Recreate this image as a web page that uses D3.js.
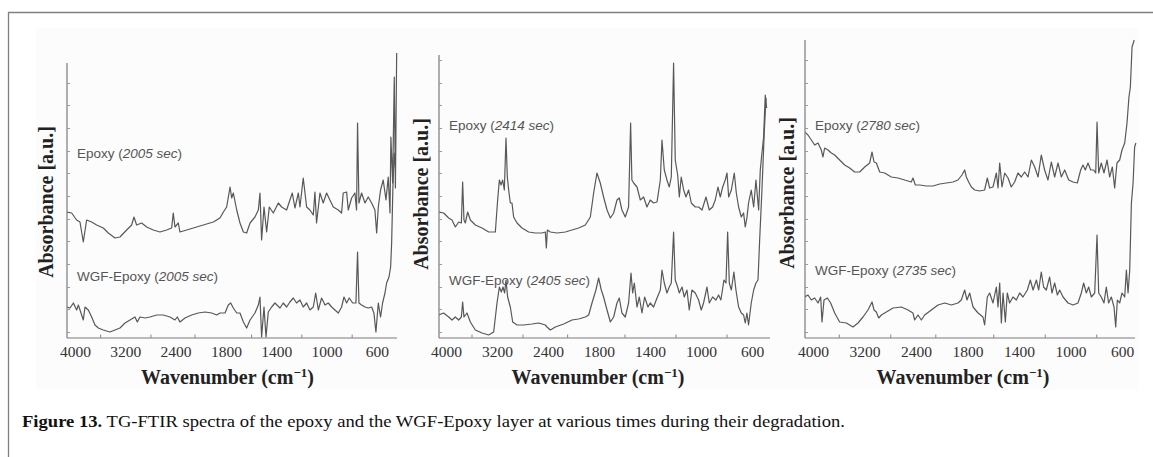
<!DOCTYPE html>
<html>
<head>
<meta charset="utf-8">
<script src="https://cdn.jsdelivr.net/npm/d3@7"></script>
<style>
  body { margin: 0; background: #fff; }
  svg { display: block; }
</style>
</head>
<body>
<div id="chart"></div>
<script>
// TG-FTIR spectra, three panels (wavenumber cm-1 vs absorbance a.u.)

var tickLabels = [4000, 3200, 2400, 1800, 1400, 1000, 600];
var minorTicks = [3600, 2800, 2100, 1600, 1200, 800];
var yTicks = [6, 29, 51, 74, 97, 119, 142, 165, 187, 210, 233, 255, 278];

var seriesNames = ["Epoxy", "WGF-Epoxy"];
var panelTimes = [["2005 sec", "2005 sec"], ["2414 sec", "2405 sec"], ["2780 sec", "2735 sec"]];

// [wavenumber, absorbance]
var epoxy2005 = [[4130,126],[4053,125],[3974,118],[3921,116],[3868,96],[3815,118],[3735,116],[3656,113],[3550,110],[3470,105],[3364,100],[3285,101],[3179,108],[3099,113],[3062,121],[3020,113],[2940,115],[2860,111],[2755,108],[2649,106],[2543,108],[2463,110],[2437,125],[2410,111],[2357,115],[2331,106],[2224,108],[2118,110],[1980,113],[1900,116],[1847,120],[1820,126],[1794,131],[1767,151],[1754,140],[1741,145],[1714,128],[1688,115],[1661,106],[1635,105],[1608,115],[1569,121],[1542,128],[1529,145],[1516,98],[1497,131],[1476,106],[1455,131],[1423,125],[1383,135],[1357,131],[1317,128],[1291,138],[1272,145],[1251,130],[1224,145],[1211,131],[1185,160],[1158,131],[1132,128],[1105,123],[1092,146],[1079,115],[1052,145],[1026,135],[999,145],[973,138],[946,131],[906,128],[880,125],[867,145],[840,146],[827,128],[800,140],[774,145],[761,128],[753,215],[742,135],[721,145],[694,135],[668,141],[641,135],[615,128],[601,105],[588,131],[570,148],[549,158],[527,138],[509,161],[495,125],[488,201],[474,155],[461,261],[452,150],[442,285]];

var wgf2005 = [[4130,31],[4079,30],[4026,35],[3974,28],[3947,33],[3894,23],[3868,18],[3841,31],[3788,28],[3735,21],[3682,13],[3629,10],[3550,8],[3444,6],[3364,8],[3285,10],[3205,15],[3125,18],[3046,21],[3009,16],[2967,21],[2887,20],[2807,21],[2701,23],[2596,23],[2490,21],[2410,18],[2373,21],[2331,16],[2251,20],[2145,23],[2040,25],[1966,26],[1913,25],[1873,23],[1847,25],[1807,25],[1781,33],[1762,35],[1741,30],[1714,25],[1688,25],[1661,16],[1635,10],[1608,18],[1569,25],[1542,33],[1529,41],[1516,1],[1497,31],[1481,1],[1463,26],[1436,31],[1410,35],[1370,30],[1344,35],[1317,31],[1291,36],[1264,40],[1238,35],[1211,38],[1185,31],[1158,35],[1132,28],[1105,31],[1086,45],[1065,28],[1039,40],[1012,33],[986,35],[959,31],[933,28],[906,25],[880,31],[861,41],[840,35],[819,40],[792,35],[766,35],[753,86],[742,35],[721,33],[694,31],[668,30],[641,31],[623,25],[607,6],[588,35],[570,21],[554,35],[535,45],[522,55],[503,61],[490,71],[482,95],[472,150],[462,185],[452,170]];

var epoxy2414 = [[4115,126],[4037,125],[3958,120],[3906,118],[3854,111],[3801,116],[3759,115],[3739,156],[3718,118],[3697,115],[3660,126],[3618,118],[3540,113],[3435,110],[3331,106],[3226,106],[3190,138],[3163,158],[3137,153],[3111,158],[3085,148],[3059,200],[3038,161],[3017,148],[2991,135],[2965,135],[2939,121],[2886,115],[2808,110],[2703,106],[2599,105],[2494,105],[2442,106],[2426,90],[2410,108],[2363,106],[2259,105],[2128,106],[2024,108],[1960,110],[1907,113],[1868,121],[1842,145],[1816,165],[1790,155],[1764,141],[1737,128],[1711,120],[1685,125],[1659,138],[1641,140],[1620,128],[1594,121],[1568,131],[1552,215],[1542,158],[1528,155],[1502,151],[1476,138],[1450,141],[1424,131],[1398,138],[1372,135],[1345,136],[1319,158],[1306,198],[1288,168],[1267,158],[1249,151],[1233,161],[1215,275],[1202,178],[1183,163],[1170,141],[1155,161],[1136,148],[1118,141],[1097,148],[1076,135],[1045,131],[1019,131],[992,128],[961,141],[935,128],[909,131],[888,138],[867,151],[849,141],[830,151],[810,158],[796,165],[783,141],[762,148],[739,165],[723,145],[705,131],[684,121],[666,125],[653,111],[640,120],[627,135],[606,148],[587,131],[569,158],[548,128],[535,168],[522,185],[509,201],[496,243],[485,230]];

var wgf2405 = [[4115,23],[4037,25],[3958,21],[3906,18],[3854,21],[3801,18],[3759,21],[3739,36],[3718,21],[3671,25],[3618,16],[3540,8],[3435,5],[3331,3],[3252,6],[3200,35],[3163,51],[3132,46],[3106,51],[3080,45],[3059,58],[3033,41],[2991,31],[2954,16],[2886,13],[2782,13],[2651,14],[2546,15],[2442,13],[2416,11],[2363,8],[2285,11],[2154,14],[2024,18],[1960,19],[1907,21],[1881,23],[1855,35],[1824,48],[1803,60],[1782,48],[1764,41],[1737,28],[1711,16],[1685,21],[1659,35],[1641,40],[1620,25],[1594,21],[1568,35],[1549,65],[1536,45],[1523,55],[1502,31],[1484,41],[1463,25],[1442,41],[1416,31],[1398,35],[1372,31],[1345,40],[1319,48],[1306,68],[1288,55],[1267,45],[1249,51],[1233,55],[1215,106],[1202,58],[1183,51],[1170,45],[1149,51],[1131,41],[1110,48],[1092,28],[1071,48],[1045,45],[1019,38],[998,28],[980,35],[953,51],[935,35],[909,41],[883,38],[862,43],[844,38],[820,58],[804,55],[791,106],[778,55],[762,48],[742,66],[726,48],[705,31],[684,25],[666,23],[653,15],[640,25],[627,13],[606,35],[587,48],[569,55],[553,58],[540,98],[522,148],[504,205],[490,240]];

var epoxy2780 = [[4129,206],[4078,203],[4026,198],[3974,193],[3922,195],[3871,188],[3845,181],[3819,190],[3767,188],[3715,185],[3663,183],[3586,178],[3508,173],[3430,170],[3353,166],[3275,166],[3197,171],[3120,175],[3083,186],[3052,176],[3016,175],[2964,166],[2887,165],[2783,161],[2680,160],[2576,158],[2473,156],[2447,160],[2410,153],[2343,153],[2239,152],[2136,152],[2032,154],[1964,155],[1913,156],[1874,158],[1843,163],[1822,168],[1809,161],[1791,156],[1770,151],[1744,148],[1705,147],[1667,148],[1646,160],[1628,150],[1602,151],[1576,165],[1563,150],[1550,175],[1532,151],[1511,165],[1485,160],[1460,151],[1434,156],[1408,165],[1382,161],[1356,166],[1330,161],[1304,178],[1278,171],[1252,161],[1227,183],[1201,168],[1175,158],[1149,176],[1123,161],[1097,175],[1071,161],[1045,168],[1014,158],[980,156],[947,155],[921,168],[903,173],[885,168],[864,175],[843,168],[820,168],[804,165],[794,216],[781,165],[761,175],[740,165],[716,178],[696,161],[675,171],[657,150],[639,175],[618,178],[600,188],[579,195],[561,215],[546,241],[535,251],[522,291],[505,298]];

var wgf2735 = [[4129,41],[4078,43],[4026,38],[3974,40],[3922,35],[3881,41],[3860,16],[3829,38],[3777,40],[3726,35],[3663,25],[3586,16],[3482,15],[3379,11],[3301,15],[3223,21],[3146,28],[3083,36],[3052,28],[3016,26],[2980,20],[2938,23],[2861,26],[2757,30],[2628,31],[2524,28],[2447,25],[2421,18],[2369,23],[2317,18],[2265,23],[2162,28],[2058,33],[1977,35],[1925,33],[1874,35],[1848,38],[1822,48],[1804,38],[1783,45],[1757,31],[1718,25],[1680,21],[1667,13],[1646,41],[1628,45],[1602,35],[1576,51],[1563,31],[1550,55],[1537,15],[1524,45],[1506,16],[1491,45],[1473,35],[1447,41],[1421,38],[1395,45],[1369,41],[1335,48],[1312,58],[1291,48],[1265,58],[1247,48],[1227,66],[1209,51],[1188,48],[1162,61],[1144,45],[1123,55],[1102,43],[1084,48],[1058,41],[1019,35],[980,33],[942,35],[916,45],[898,55],[877,45],[859,51],[838,41],[812,45],[794,103],[781,45],[761,41],[740,35],[722,51],[704,35],[683,41],[662,31],[649,11],[636,38],[618,35],[600,45],[579,41],[566,68],[553,45],[540,68],[527,135],[514,155],[502,191],[492,195]];

var width = 1153;
var height = 457;
var axisY = 338;

var serif = "'Liberation Serif', 'DejaVu Serif', serif";
var sans = "'Liberation Sans', Arial, sans-serif";

// layout of each panel (pixels)
var panels = [
    { axisX: 67,  x4000: 75,  step: 50.3, xEnd: 397,  yTop: 63, ylabX: 52.5, ylabY: 202, xlabX: 227.5,
      series: [epoxy2005, wgf2005], labY: [158, 281] },
    { axisX: 439, x4000: 446, step: 51,   xEnd: 770,  yTop: 55, ylabX: 428,  ylabY: 194, xlabX: 598,
      series: [epoxy2414, wgf2405], labY: [130, 285] },
    { axisX: 805, x4000: 813, step: 51.5, xEnd: 1135, yTop: 40, ylabX: 794,  ylabY: 193, xlabX: 963,
      series: [epoxy2780, wgf2735], labY: [130, 275] }
];

var svg = d3.select("#chart")
    .append("svg")
    .attr("width", width)
    .attr("height", height);

// faint background of the figure image
svg.append("rect")
    .attr("x", 36).attr("y", 28)
    .attr("width", 1102).attr("height", 362)
    .attr("fill", "#fcfcfc");

// frame (top and left only)
svg.append("path")
    .attr("d", "M8.5,457 V12.5 H1153")
    .attr("fill", "none")
    .attr("stroke", "#808080")
    .attr("stroke-width", 1.3);

var y = d3.scaleLinear().domain([0, 280]).range([axisY, axisY - 280]);

panels.forEach(function(p, i) {
    // FTIR style axis: 4000-2000 compressed by half
    var x = d3.scaleLinear()
        .domain([4000, 2000, 600])
        .range([p.x4000, p.x4000 + 2.5 * p.step, p.x4000 + 6 * p.step]);

    var g = svg.append("g").attr("class", "panel" + i);

    var clipId = "clip" + i;
    svg.append("clipPath").attr("id", clipId)
        .append("rect")
        .attr("x", p.axisX).attr("y", 0)
        .attr("width", p.xEnd - p.axisX + 2).attr("height", axisY + 2);

    var line = d3.line()
        .x(function(d) { return x(d[0]); })
        .y(function(d) { return y(d[1]); });

    p.series.forEach(function(s) {
        g.append("path")
            .datum(s)
            .attr("clip-path", "url(#" + clipId + ")")
            .attr("d", line)
            .attr("fill", "none")
            .attr("stroke", "#585858")
            .attr("stroke-width", 1.2)
            .attr("stroke-linejoin", "round");
    });

    // axis lines
    g.append("line")
        .attr("x1", p.axisX).attr("x2", p.xEnd)
        .attr("y1", axisY).attr("y2", axisY)
        .attr("stroke", "#7a7a7a").attr("stroke-width", 1.2);
    g.append("line")
        .attr("x1", p.axisX).attr("x2", p.axisX)
        .attr("y1", axisY).attr("y2", p.yTop)
        .attr("stroke", "#7a7a7a").attr("stroke-width", 1.2);

    // tick labels
    var xAxis = d3.axisBottom(x)
        .tickValues(tickLabels)
        .tickSize(0)
        .tickPadding(8)
        .tickFormat(d3.format("d"));
    var ax = g.append("g")
        .attr("transform", "translate(0," + axisY + ")")
        .call(xAxis)
        .attr("font-family", serif)
        .attr("font-size", 15.5);
    ax.select(".domain").remove();
    ax.selectAll("text")
        .style("font-family", serif)
        .attr("fill", "#333");

    // small inner ticks
    var minor = g.append("g")
        .attr("transform", "translate(0," + axisY + ")")
        .call(d3.axisBottom(x).tickValues(minorTicks).tickSize(-3.5).tickFormat(""));
    minor.select(".domain").remove();
    minor.selectAll("line").attr("stroke", "#888");

    var yAx = g.append("g")
        .attr("transform", "translate(" + p.axisX + ",0)")
        .call(d3.axisLeft(y).tickValues(yTicks.filter(function(t) { return y(t) > p.yTop + 3; }))
            .tickSize(-3).tickFormat(""));
    yAx.select(".domain").remove();
    yAx.selectAll("line").attr("stroke", "#999");

    // axis titles
    var xt = g.append("text")
        .attr("x", p.xlabX)
        .attr("y", 384)
        .attr("text-anchor", "middle")
        .attr("font-family", serif)
        .attr("font-weight", "bold")
        .attr("font-size", 20)
        .attr("fill", "#222");
    xt.append("tspan").text("Wavenumber (cm");
    xt.append("tspan").attr("font-size", 13).attr("dy", -7).text("\u2212" + "1");
    xt.append("tspan").attr("dy", 7).text(")");

    g.append("text")
        .attr("transform", "translate(" + p.ylabX + "," + p.ylabY + ")rotate(-90)")
        .attr("text-anchor", "middle")
        .attr("font-family", serif)
        .attr("font-weight", "bold")
        .attr("font-size", 20)
        .attr("fill", "#222")
        .text("Absorbance [a.u.]");

    // series labels
    seriesNames.forEach(function(name, k) {
        var t = g.append("text")
            .attr("x", p.axisX + 10)
            .attr("y", p.labY[k])
            .attr("font-family", sans)
            .attr("font-size", 13.5)
            .attr("fill", "#555");
        t.append("tspan").text(name + " (");
        t.append("tspan").attr("font-style", "italic").text(panelTimes[i][k]);
        t.append("tspan").text(")");
    });
});

// caption
var cap = svg.append("text")
    .attr("x", 22)
    .attr("y", 427)
    .attr("font-family", serif)
    .attr("font-size", 17)
    .attr("textLength", 823)
    .attr("lengthAdjust", "spacingAndGlyphs")
    .attr("fill", "#111");
cap.append("tspan").attr("font-weight", "bold").text("Figure 13.");
cap.append("tspan").text(" TG-FTIR spectra of the epoxy and the WGF-Epoxy layer at various times during their degradation.");
</script>
</body>
</html>
